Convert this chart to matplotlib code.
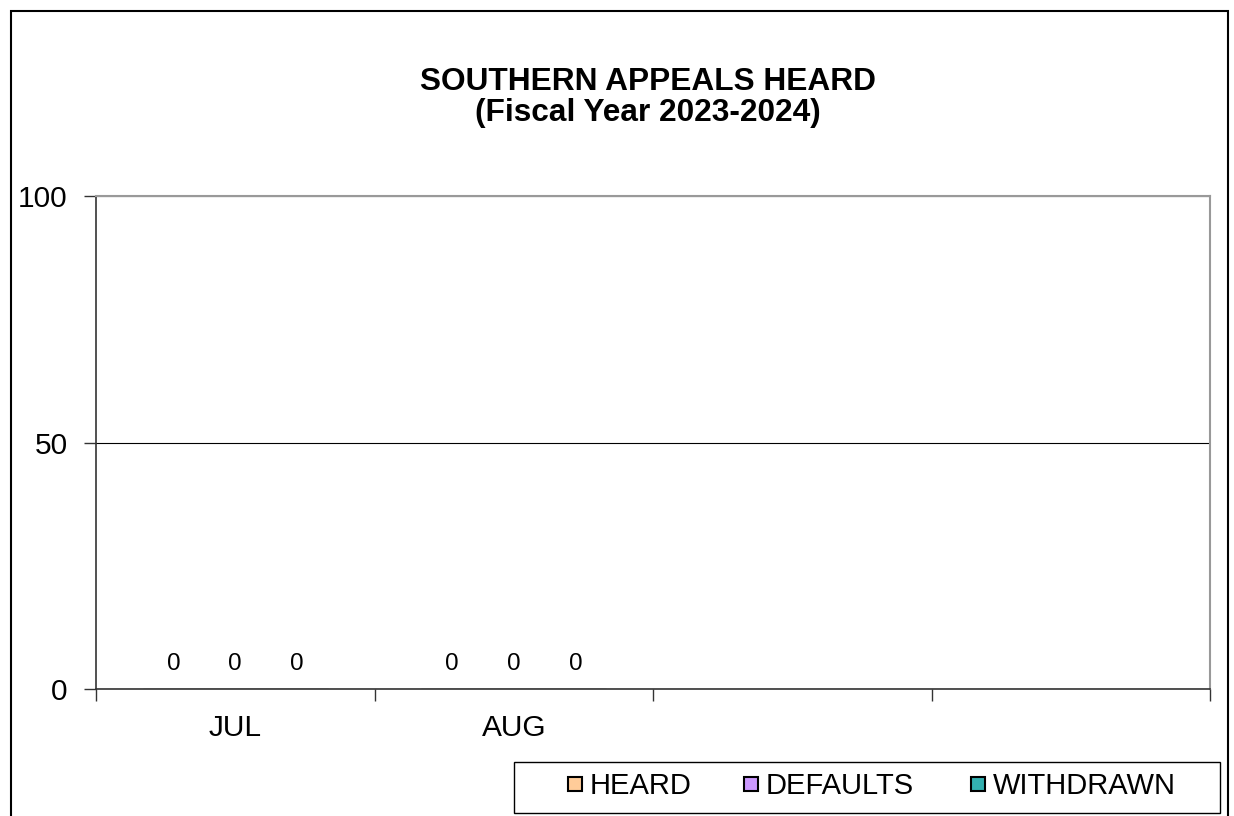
import matplotlib.pyplot as plt
from matplotlib.patches import Rectangle
from matplotlib.lines import Line2D
import numpy as np

plt.rcParams['font.family'] = ['Liberation Sans', 'DejaVu Sans']

# datos del grafico
meses = ['JUL', 'AUG', '', '']
series = ['HEARD', 'DEFAULTS', 'WITHDRAWN']
heard = [0, 0]
defaults = [0, 0]
withdrawn = [0, 0]
colores = ['#FFCC99', '#CC99FF', '#33B0B0']

fig = plt.figure(figsize=(12.34, 8.16), dpi=100)
ax = fig.add_axes([96 / 1234, 127 / 816, 1114 / 1234, 493 / 816])

ancho = 0.222
x = np.arange(len(heard))
for i, (vals, col) in enumerate(zip([heard, defaults, withdrawn], colores)):
    pos = x + (i - 1) * ancho
    ax.bar(pos, vals, width=ancho, color=col, edgecolor='black', linewidth=0.8, zorder=3)
    for px, v in zip(pos, vals):
        ax.annotate(str(v), (px, v), xytext=(0, 18), textcoords='offset points',
                    ha='center', va='center', fontsize=17.5)

ax.set_xlim(-0.5, len(meses) - 0.5)
ax.set_ylim(0, 100)
ax.set_yticks([0, 50, 100])
ax.tick_params(axis='y', labelsize=21.5, length=8.5, width=1, pad=12, color='#333333')

# ticks en los limites de categoria, etiquetas en el centro
ax.set_xticks(np.arange(len(meses) + 1) - 0.5)
ax.set_xticklabels([])
ax.set_xticks(np.arange(len(meses)), minor=True)
ax.set_xticklabels(meses, minor=True)
ax.tick_params(axis='x', which='major', length=8.5, width=1, color='#333333')
ax.tick_params(axis='x', which='minor', length=0, labelsize=21.5, pad=18)

ax.yaxis.grid(True, color='black', linewidth=0.8)
ax.set_axisbelow(True)
for lado in ['top', 'right']:
    ax.spines[lado].set_color('#999999')
    ax.spines[lado].set_linewidth(1.5)
for lado in ['left', 'bottom']:
    ax.spines[lado].set_color('#333333')
    ax.spines[lado].set_linewidth(1.2)

fig.text(0.525, 1 - 82 / 816, 'SOUTHERN APPEALS HEARD', ha='center', va='center',
         fontsize=22.8, fontweight='bold')
fig.text(0.525, 1 - 113 / 816, '(Fiscal Year 2023-2024)', ha='center', va='center',
         fontsize=22.8, fontweight='bold')

# leyenda: una entrada por serie, columnas de igual ancho como en Excel
x_leyenda = [566, 742, 969]
for nombre, col, xl in zip(series, colores, x_leyenda):
    h = Line2D([], [], marker='s', ls='', markersize=10, markerfacecolor=col,
               markeredgecolor='black', markeredgewidth=1.5)
    fig.legend([h], [nombre], loc='center left', bbox_to_anchor=(xl / 1234, 1 - 786 / 816),
               fontsize=21, frameon=False, handlelength=0.6, handletextpad=0.22,
               borderpad=0, borderaxespad=0)

# caja de la leyenda
fig.patches.append(Rectangle((514 / 1234, 1 - 813 / 816), 706 / 1234, 51 / 816,
                             transform=fig.transFigure, fill=False,
                             edgecolor='black', linewidth=1))

# marco exterior
fig.patches.append(Rectangle((11 / 1234, -0.05), 1217 / 1234, 805 / 816 + 0.05,
                             transform=fig.transFigure, fill=False,
                             edgecolor='black', linewidth=1.5))

fig.savefig('out.png', dpi=100)
